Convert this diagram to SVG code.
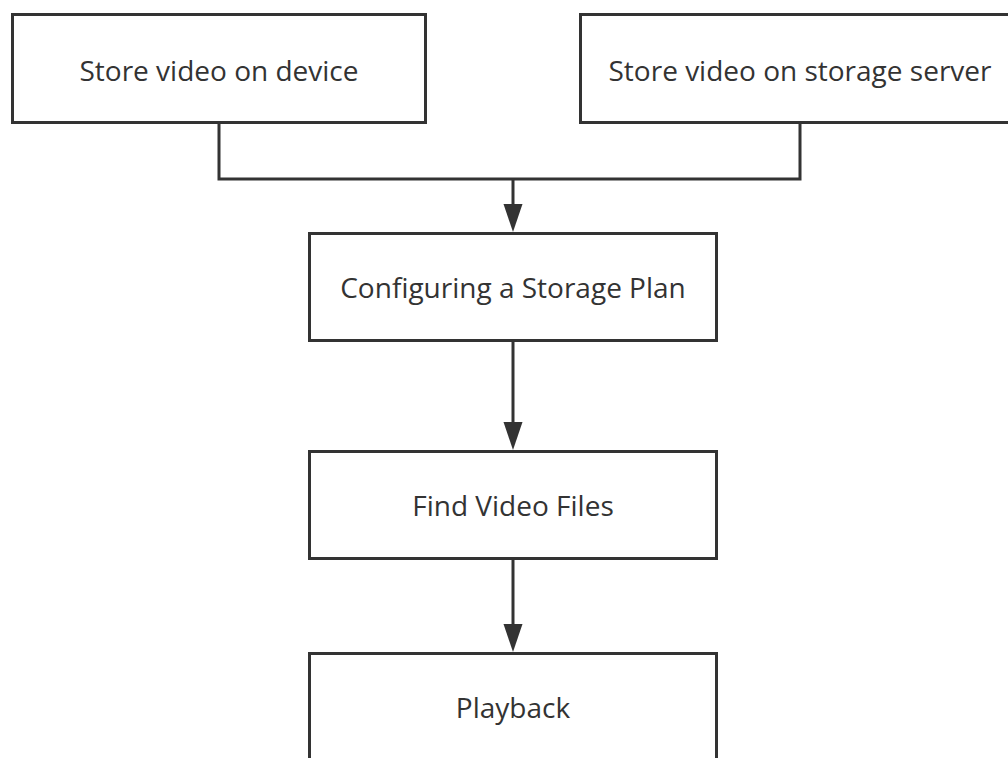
<svg xmlns="http://www.w3.org/2000/svg" width="1008" height="758" viewBox="0 0 1008 758">
<style>
.box{fill:#fff;stroke:#333;stroke-width:3}
.lbl{font-family:"Open Sans","Noto Sans","Liberation Sans",sans-serif;font-size:28px;fill:#333;text-anchor:middle}
.conn{fill:none;stroke:#333;stroke-width:3}
.head{fill:#333;stroke:none}
</style>
<rect width="1008" height="758" fill="#fff"/>
<g id="connectors">
<path class="conn" d="M219 123 V179 H800 V123"/>
<path class="conn" d="M513 179 V206"/>
<polygon class="head" points="503.5,204 522.5,204 513,232"/>
<path class="conn" d="M513 341 V424"/>
<polygon class="head" points="503.5,422 522.5,422 513,450"/>
<path class="conn" d="M513 559 V626"/>
<polygon class="head" points="503.5,624 522.5,624 513,652"/>
</g>
<g id="node-device">
<rect class="box" x="12.5" y="14.5" width="413" height="108"/>
<text class="lbl" x="219" y="81">Store video on device</text>
</g>
<g id="node-server">
<rect class="box" x="580.5" y="14.5" width="440" height="108"/>
<text class="lbl" x="800" y="81">Store video on storage server</text>
</g>
<g id="node-plan">
<rect class="box" x="309.5" y="233.5" width="407" height="107"/>
<text class="lbl" x="513" y="298">Configuring a Storage Plan</text>
</g>
<g id="node-find">
<rect class="box" x="309.5" y="451.5" width="407" height="107"/>
<text class="lbl" x="513" y="516">Find Video Files</text>
</g>
<g id="node-playback">
<rect class="box" x="309.5" y="653.5" width="407" height="160"/>
<text class="lbl" x="513" y="718">Playback</text>
</g>
</svg>
